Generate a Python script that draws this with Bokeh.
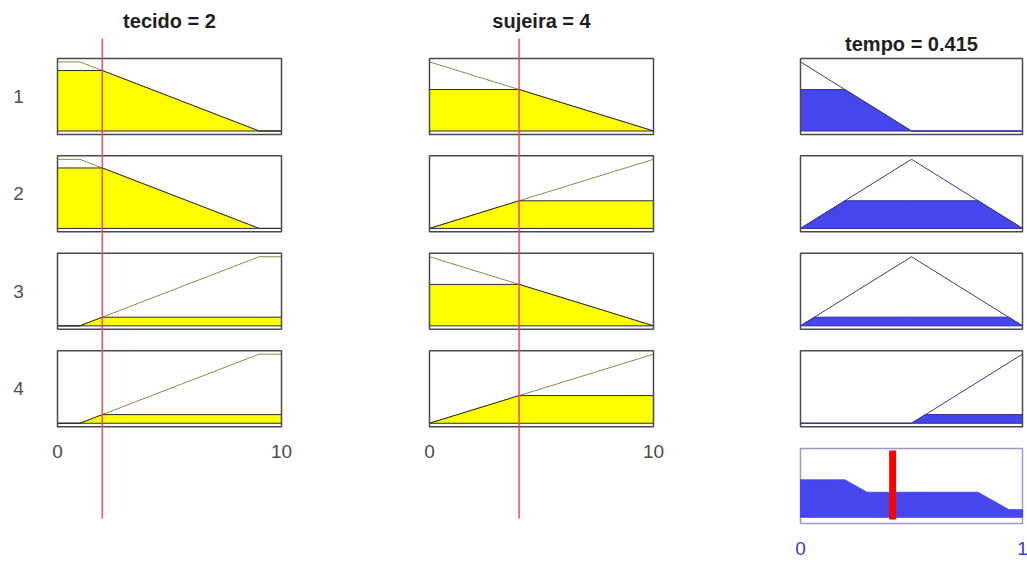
import numpy as np
from bokeh.plotting import figure
from bokeh.models import Range1d
from bokeh.core.properties import value
from bokeh.embed import file_html
from bokeh.resources import INLINE

# ---- fuzzy system: inputs, output ----
tecido_valor = 2
sujeira_valor = 4
tempo_valor = 0.415

# membership functions (breakpoints and degrees)
tecido_x = [0, 1, 9, 10]
tecido_pouco = [1, 1, 0, 0]
tecido_muito = [0, 0, 1, 1]

sujeira_x = [0, 10]
sujeira_pouca = [1, 0]
sujeira_muita = [0, 1]

tempo_x = [0, 0.5, 1]
tempo_rapido = [1, 0, 0]
tempo_medio = [0, 1, 0]
tempo_lento = [0, 0, 1]

# rule base
regras = ["1", "2", "3", "4"]
regra_tecido = [tecido_pouco, tecido_pouco, tecido_muito, tecido_muito]
regra_sujeira = [sujeira_pouca, sujeira_muita, sujeira_pouca, sujeira_muita]
regra_tempo = [tempo_rapido, tempo_medio, tempo_medio, tempo_lento]

ticks_entrada = [0, 10]
ticks_saida = [0, 1]

# ---- page layout ----
W, H = 1027, 563
KY, BASE0, STEP = 69.09, 130.5, 1.41      # membership panels
KA, BASEA = 62.5, 516.75                  # aggregated output panel
FONT = value("Liberation Sans")


def x_range(p0, k):
    return Range1d(-p0 / k, (W - p0) / k)


def clipped(xs, ys, h):
    """Polygon of min(mf, h) closed to the zero line."""
    px, py = [], []
    for i in range(len(xs)):
        if i > 0:
            x0, y0, x1, y1 = xs[i - 1], ys[i - 1], xs[i], ys[i]
            if (y0 - h) * (y1 - h) < 0:
                t = (h - y0) / (y1 - y0)
                px.append(x0 + t * (x1 - x0))
                py.append(h)
        px.append(xs[i])
        py.append(min(ys[i], h))
    return [px[0]] + px + [px[-1]], [0] + py + [0]


p = figure(width=W, height=H, x_range=x_range(57, 22.4),
           y_range=Range1d((BASE0 - H) / KY, BASE0 / KY),
           output_backend="svg", toolbar_location=None, min_border=0,
           x_axis_location=None, y_axis_location=None,
           outline_line_color=None, background_fill_color="white")
p.extra_x_ranges = {"suj": x_range(429, 22.4), "tmp": x_range(800, 222.0)}
p.extra_y_ranges = {"agg": Range1d((BASEA - H) / KA, BASEA / KA)}
p.xgrid.grid_line_color = None
p.ygrid.grid_line_color = None

YELLOW, EDGE, MFLINE = "#ffff00", "#2a2a2a", "#8a8a4a"
BLUE, BLUE_EDGE, BLUE_MF = "#4646ee", "#2a2aa8", "#3a3a8c"
BORDER = "#4a4a4a"

forcas = []
for i, rot in enumerate(regras):
    off = -STEP * i
    entradas = [("default", tecido_x, regra_tecido[i], tecido_valor, ticks_entrada[1]),
                ("suj", sujeira_x, regra_sujeira[i], sujeira_valor, ticks_entrada[1])]
    graus = []
    for rname, xs, mf, v, xmax in entradas:
        g = float(np.interp(v, xs, mf))
        graus.append(g)
        fx, fy = clipped(xs, mf, g)
        p.quad(left=[0], right=[xmax], bottom=[off - 0.05], top=[off + 1.05],
               fill_color="white", line_color=None, x_range_name=rname)
        p.line(xs, [y + off for y in mf], line_color=MFLINE, line_width=1,
               x_range_name=rname)
        p.patch(fx, [y + off for y in fy], fill_color=YELLOW, line_color=EDGE,
                line_width=1, x_range_name=rname)
        p.quad(left=[0], right=[xmax], bottom=[off - 0.05], top=[off + 1.05],
               fill_color=None, line_color=BORDER, line_width=1.5,
               x_range_name=rname)
    w = min(graus)
    forcas.append(w)
    fx, fy = clipped(tempo_x, regra_tempo[i], w)
    p.quad(left=[0], right=[1], bottom=[off - 0.05], top=[off + 1.05],
           fill_color="white", line_color=None, x_range_name="tmp")
    p.patch(fx, [y + off for y in fy], fill_color=BLUE, line_color=BLUE_EDGE,
            line_width=1, x_range_name="tmp")
    p.line(tempo_x, [y + off for y in regra_tempo[i]], line_color=BLUE_MF,
           line_width=1, x_range_name="tmp")
    p.quad(left=[0], right=[1], bottom=[off - 0.05], top=[off + 1.05],
           fill_color=None, line_color=BORDER, line_width=1.5, x_range_name="tmp")

# rule numbers
p.text(x=[-1.74] * len(regras), y=[-STEP * i + 0.5 for i in range(len(regras))],
       text=regras, text_font=FONT, text_font_size=value("19px"),
       text_color="#505050", text_align="center", text_baseline="middle")

# aggregated output (max of clipped consequents)
grade = np.linspace(0, 1, 801)
agregado = np.max([np.minimum(np.interp(grade, tempo_x, mf), w)
                   for mf, w in zip(regra_tempo, forcas)], axis=0)
p.quad(left=[0], right=[1], bottom=[-0.1], top=[1.1], fill_color="white",
       line_color="#9a9ac8", line_width=1.5, x_range_name="tmp", y_range_name="agg")
p.patch(np.concatenate([[0], grade, [1]]), np.concatenate([[0], agregado, [0]]),
        fill_color=BLUE, line_color=BLUE, line_width=1,
        x_range_name="tmp", y_range_name="agg")
p.segment(x0=[tempo_valor], y0=[-0.036], x1=[tempo_valor], y1=[1.068],
          line_color="#ff0000", line_width=7, x_range_name="tmp", y_range_name="agg")

# input markers
y_top, y_bot = (BASE0 - 38) / KY, (BASE0 - 518) / KY
p.segment(x0=[tecido_valor], y0=[y_top], x1=[tecido_valor], y1=[y_bot],
          line_color="#f04052", line_width=1.6, line_alpha=0.9)
p.segment(x0=[sujeira_valor], y0=[y_top], x1=[sujeira_valor], y1=[y_bot],
          line_color="#f04052", line_width=1.6, line_alpha=0.9, x_range_name="suj")

# titles
titulo_kw = dict(text_font=FONT, text_font_size=value("20px"), text_font_style="bold",
                 text_color="#1e1e1e", text_align="center", text_baseline="middle")
p.text(x=[5], y=[(BASE0 - 20) / KY], text=[f"tecido = {tecido_valor}"], **titulo_kw)
p.text(x=[5], y=[(BASE0 - 20) / KY], text=[f"sujeira = {sujeira_valor}"],
       x_range_name="suj", **titulo_kw)
p.text(x=[0.5], y=[(BASE0 - 43) / KY], text=[f"tempo = {tempo_valor}"],
       x_range_name="tmp", **titulo_kw)

# tick labels
tick_kw = dict(text_font=FONT, text_font_size=value("19px"), text_align="center",
               text_baseline="middle")
ty = (BASE0 - 451) / KY
p.text(x=ticks_entrada, y=[ty] * 2, text=[str(t) for t in ticks_entrada],
       text_color="#4a4a4a", **tick_kw)
p.text(x=ticks_entrada, y=[ty] * 2, text=[str(t) for t in ticks_entrada],
       text_color="#4a4a4a", x_range_name="suj", **tick_kw)
ts = (BASE0 - 548) / KY
p.text(x=ticks_saida, y=[ts] * 2, text=[str(t) for t in ticks_saida],
       text_color="#3a3ad0", x_range_name="tmp", **tick_kw)

open("out.html", "w").write(file_html(p, INLINE))
